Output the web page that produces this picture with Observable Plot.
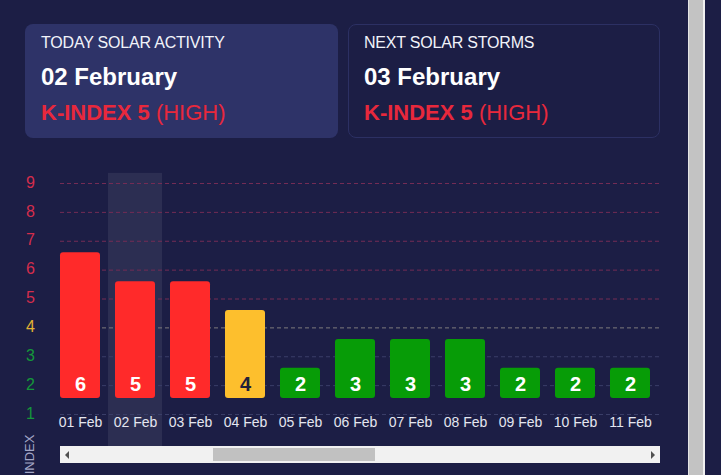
<!DOCTYPE html>
<html>
<head>
<meta charset="utf-8">
<script src="https://cdn.jsdelivr.net/npm/d3@7"></script>
<script src="https://cdn.jsdelivr.net/npm/@observablehq/plot@0.6"></script>
<style>
  html, body { margin: 0; padding: 0; }
  body { width: 721px; height: 475px; overflow: hidden; background: #1c1e45; position: relative;
         font-family: "Liberation Sans", Arial, sans-serif; color: #ffffff; }
  .card { position: absolute; top: 24px; height: 114px; box-sizing: border-box; border-radius: 8px; }
  #card1 { left: 25px; width: 313px; background: #2e3368; }
  #card2 { left: 348px; width: 312px; border: 1px solid #2c3063; background: #1c1e45; }
  .card .t1 { position: absolute; left: 16px; top: 10px; font-size: 16px; color: #f2f3fa; letter-spacing: -0.2px; }
  .card .t2 { position: absolute; left: 16px; top: 39px; font-size: 24px; font-weight: bold; color: #ffffff; }
  .card .t3 { position: absolute; left: 16px; top: 76px; font-size: 22px; color: #e8283c; }
  .card .t3 b { font-weight: bold; }
  #card2 .t1 { left: 15px; top: 9px; }
  #card2 .t2 { left: 15px; top: 38px; }
  #card2 .t3 { left: 15px; top: 75px; }
  #chart { position: absolute; left: 0; top: 160px; }
  #hscroll { position: absolute; left: 60px; top: 446px; width: 600px; height: 17px; background: #f1f1f1; }
  #thumb { position: absolute; left: 153px; top: 2px; width: 162px; height: 13px; background: #c1c1c1; }
  #arrL { position: absolute; left: 5px; top: 5px; width: 0; height: 0;
          border-top: 4px solid transparent; border-bottom: 4px solid transparent; border-right: 4px solid #505050; }
  #arrR { position: absolute; right: 5px; top: 5px; width: 0; height: 0;
          border-top: 4px solid transparent; border-bottom: 4px solid transparent; border-left: 4px solid #505050; }
  #vscroll { position: absolute; left: 688px; top: 0; width: 15px; height: 475px; background: #c3c3c3; border-left: 1px solid #e4e4e4; box-sizing: border-box; }
  #vedge { position: absolute; left: 703px; top: 0; width: 2px; height: 475px; background: #f0f0f0; }
  #ylabel { position: absolute; left: 29px; top: 461px; transform: translate(-50%, -50%) rotate(-90deg);
            font-size: 13px; color: #a3a6c6; white-space: nowrap; }
</style>
</head>
<body>
<div class="card" id="card1">
  <div class="t1">TODAY SOLAR ACTIVITY</div>
  <div class="t2">02 February</div>
  <div class="t3"><b>K-INDEX 5</b> (HIGH)</div>
</div>
<div class="card" id="card2">
  <div class="t1">NEXT SOLAR STORMS</div>
  <div class="t2">03 February</div>
  <div class="t3"><b>K-INDEX 5</b> (HIGH)</div>
</div>
<div id="chart"></div>
<div id="hscroll"><div id="arrL"></div><div id="thumb"></div><div id="arrR"></div></div>
<div id="ylabel">K-INDEX</div>
<div id="vscroll"></div>
<div id="vedge"></div>
<script>
// ---- data ----
const days = ["01 Feb", "02 Feb", "03 Feb", "04 Feb", "05 Feb", "06 Feb", "07 Feb", "08 Feb", "09 Feb", "10 Feb", "11 Feb"];
const kIndex = [6, 5, 5, 4, 2, 3, 3, 3, 2, 2, 2];
const yTicks = [1, 2, 3, 4, 5, 6, 7, 8, 9];
const highlightDay = "02 Feb";

// ---- styling helpers ----
const barBase = 1.55;      // bar baseline in index units
const barTopOffset = 0.6;  // bar top offset in index units
const level = k => (k >= 5 ? "high" : k === 4 ? "mid" : "low");
const barColor = {high: "#ff2a2a", mid: "#fdbf2d", low: "#079c07"};
const tickColor = {high: "#d52d4c", mid: "#e2b232", low: "#14973a"};
const gridColor = {high: "#742c55", mid: "#7d7a7c", low: "#3a3e68"};

const data = days.map((day, i) => ({day, k: kIndex[i]}));

const chart = Plot.plot({
  width: 690,
  height: 286,
  marginLeft: 60,
  marginRight: 29,
  marginTop: 0,
  marginBottom: 34,
  style: {background: "transparent", fontFamily: "'Liberation Sans', Arial, sans-serif", overflow: "visible"},
  x: {type: "band", domain: days, range: [53, 658], paddingInner: 0.27, paddingOuter: 0.135, axis: null},
  y: {domain: [1, 9], range: [254, 23], axis: null},
  color: {type: "identity"},
  marks: [
    Plot.barY([highlightDay], {x: d => d, y1: () => -0.12, y2: () => 9.35, fill: "#ffffff", fillOpacity: 0.075, insetLeft: -7, insetRight: -7}),
    Plot.ruleY(yTicks, {y: d => d, stroke: d => gridColor[level(d)], strokeDasharray: "4,3", strokeWidth: 1}),
    Plot.text(yTicks, {y: d => d, text: d => String(d), frameAnchor: "left", dx: -30, dy: -1, textAnchor: "middle",
                       fill: d => tickColor[level(d)], fontSize: 16}),
    Plot.barY(data, {x: "day", y1: () => barBase, y2: d => d.k + barTopOffset, fill: d => barColor[level(d.k)], rx: 3}),
    Plot.text(data, {x: "day", y: () => barBase, dy: -14, text: d => String(d.k),
                     fill: d => (level(d.k) === "mid" ? "#22223a" : "#ffffff"), fontWeight: "bold", fontSize: 20}),
    Plot.axisX({tickSize: 0, tickPadding: 5, fill: "#e4e6f0", fontSize: 14, label: null})
  ]
});
document.getElementById("chart").appendChild(chart);
</script>
</body>
</html>
